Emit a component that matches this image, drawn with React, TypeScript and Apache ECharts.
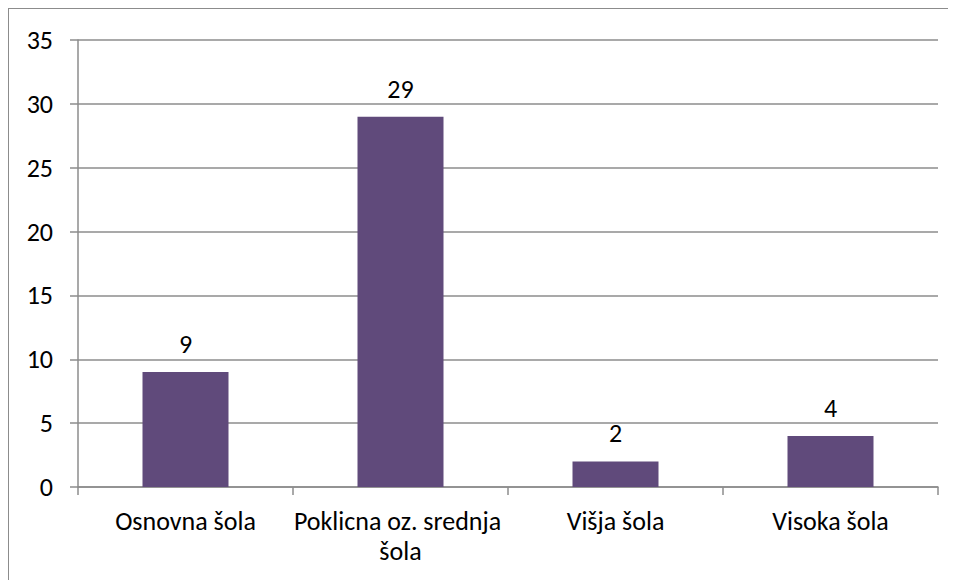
import React, { useEffect, useRef } from "react";
import * as echarts from "echarts";

const categories = ["Osnovna šola", "Poklicna oz. srednja šola", "Višja šola", "Visoka šola"];
const values = [9, 29, 2, 4];
const yMin = 0;
const yMax = 35;
const yInterval = 5;

export default function App() {
  const ref = useRef<HTMLDivElement>(null);
  useEffect(() => {
    if (!ref.current) return;
    const chart = echarts.init(ref.current, undefined, { renderer: "svg" });
    const font = "Carlito, 'Open Sans', 'Liberation Sans', sans-serif";
    chart.setOption({
      animation: false,
      grid: { left: 69, top: 31, right: 18, bottom: 93, containLabel: false },
      xAxis: {
        type: "category",
        data: categories,
        axisLine: { show: true, lineStyle: { color: "#8c8c8c", width: 1.5 } },
        axisTick: { show: true, length: 8, lineStyle: { color: "#8c8c8c", width: 1.5 } },
        axisLabel: {
          color: "#000",
          fontSize: 26,
          fontFamily: font,
          margin: 19,
          width: 225,
          overflow: "break",
          lineHeight: 30,
          interval: 0,
        },
      },
      yAxis: {
        type: "value",
        min: yMin,
        max: yMax,
        interval: yInterval,
        axisLine: { show: true, lineStyle: { color: "#8c8c8c", width: 1.5 } },
        axisTick: { show: true, length: 8, lineStyle: { color: "#8c8c8c", width: 1.5 } },
        splitLine: { show: true, lineStyle: { color: "#8c8c8c", width: 1.5 } },
        axisLabel: { color: "#000", fontSize: 26, fontFamily: font, margin: 25 },
      },
      series: [
        {
          type: "bar",
          data: values,
          barWidth: "40%",
          itemStyle: { color: "#604A7B" },
          label: {
            show: true,
            position: "top",
            distance: 15,
            color: "#000",
            fontSize: 26,
            fontFamily: font,
          },
        },
      ],
    });
    return () => chart.dispose();
  }, []);
  return (
    <div
      ref={ref}
      style={{
        width: 948,
        height: 572,
        boxSizing: "border-box",
        borderTop: "1.5px solid #8c8c8c",
        borderLeft: "1.5px solid #8c8c8c",
      }}
    />
  );
}
